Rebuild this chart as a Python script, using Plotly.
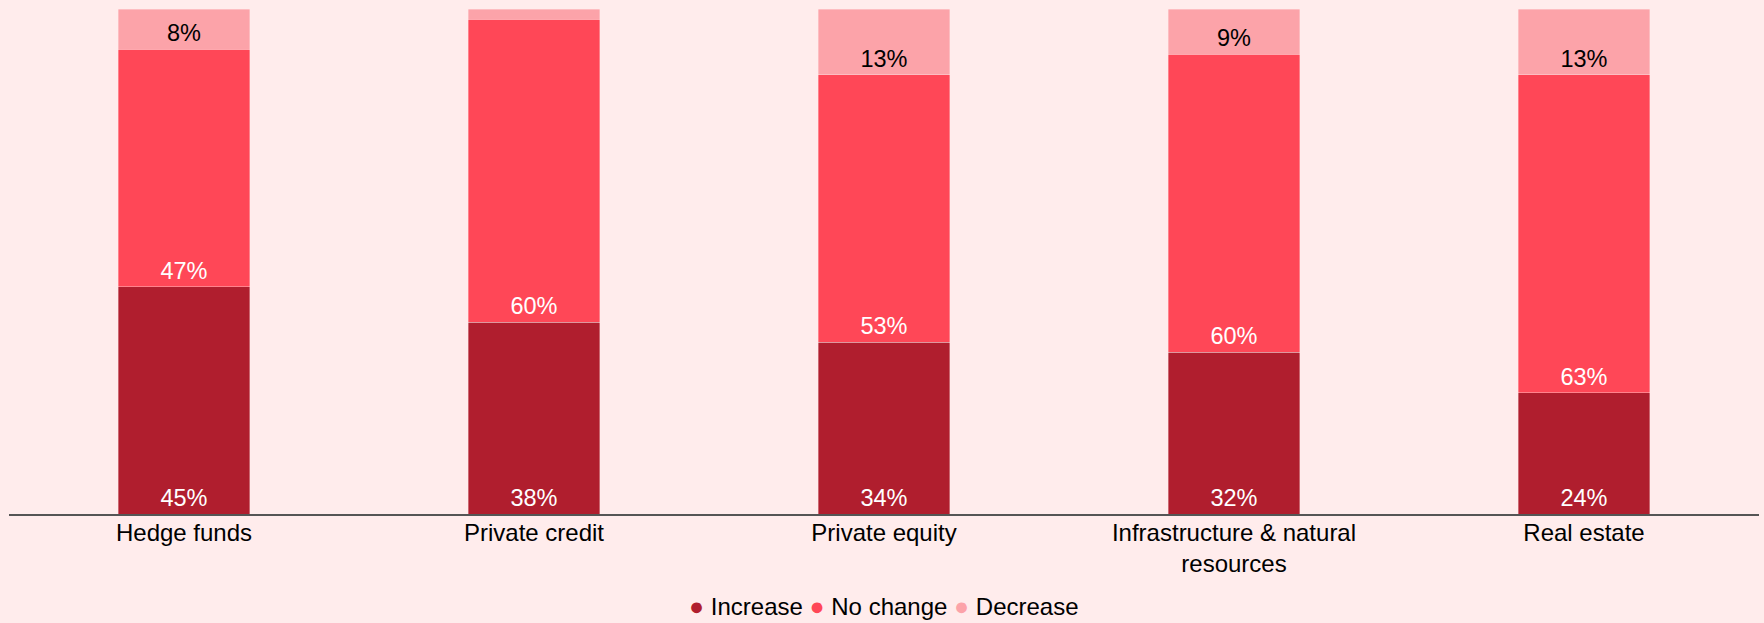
import plotly.graph_objects as go

categories = ["Hedge funds", "Private credit", "Private equity",
              "Infrastructure & natural<br>resources", "Real estate"]
increase = [45, 38, 34, 32, 24]
no_change = [47, 60, 53, 59, 63]
decrease = [8, 2, 13, 9, 13]
increase_labels = ["45%", "38%", "34%", "32%", "24%"]
no_change_labels = ["47%", "60%", "53%", "60%", "63%"]
decrease_labels = ["8%", "", "13%", "9%", "13%"]

series_names = ["Increase", "No change", "Decrease"]
colors = ["#B01E2E", "#FF4757", "#FCA3A9"]
text_colors = ["white", "white", "black"]
BG = "#FFECEC"
FONT = "Liberation Sans"

fig = go.Figure()
vals = [increase, no_change, decrease]
texts = [increase_labels, no_change_labels, decrease_labels]
for name, v, t, c, tc in zip(series_names, vals, texts, colors, text_colors):
    fig.add_trace(go.Bar(
        x=categories, y=v, name=name, text=t,
        textposition="inside", insidetextanchor="start",
        textangle=0,
        textfont=dict(color=tc, size=23.5, family=FONT),
        marker=dict(color=c, line=dict(width=0.6, color="rgba(255,236,236,0.6)")),
        showlegend=False, hoverinfo="skip",
    ))

legend_html = " ".join(
    f'<span style="color:{c};font-size:25px">●</span> {n}'
    for n, c in zip(series_names, colors)
)
fig.add_annotation(
    text=legend_html, xref="paper", yref="paper", x=0.5, xanchor="center",
    y=-0.182, yanchor="middle", showarrow=False,
    font=dict(size=24, color="black", family=FONT),
)

fig.update_layout(
    barmode="stack",
    bargap=0.623,
    width=1764, height=623,
    margin=dict(l=9, r=5, t=9, b=109),
    paper_bgcolor=BG, plot_bgcolor=BG,
    font=dict(family=FONT, size=24, color="black"),
    uniformtext=dict(minsize=23, mode="show"),
    showlegend=False,
    xaxis=dict(showline=True, linecolor="#555555", linewidth=2, automargin=False,
               ticks="", tickfont=dict(size=24, color="black", family=FONT),
               ticklabelstandoff=-4,
               showgrid=False, zeroline=False),
    yaxis=dict(range=[0, 100], visible=False, showgrid=False, zeroline=False,
               automargin=False),
)
fig.write_html("out.html")
